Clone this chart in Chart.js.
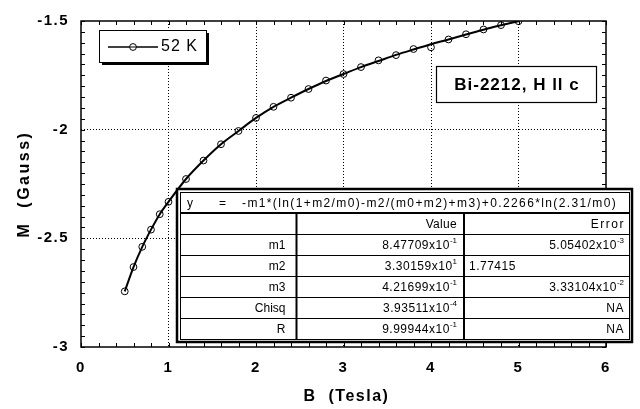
<!DOCTYPE html>
<html>
<head>
<meta charset="utf-8">
<script src="https://cdn.jsdelivr.net/npm/chart.js@4.4.1/dist/chart.umd.min.js"></script>
<style>
  html, body { margin: 0; padding: 0; background: #fff; }
</style>
</head>
<body>
<canvas id="chart" width="640" height="409"></canvas>
<script>
// Data
const fieldB = [0.5, 0.6, 0.7, 0.8, 0.9, 1.0, 1.2, 1.4, 1.6, 1.8, 2.0, 2.2, 2.4, 2.6, 2.8, 3.0, 3.2, 3.4, 3.6, 3.8, 4.0, 4.2, 4.4, 4.6, 4.8, 5.0];
const magM = [-2.744, -2.632, -2.539, -2.460, -2.389, -2.332, -2.227, -2.142, -2.067, -2.006, -1.946, -1.895, -1.853, -1.813, -1.774, -1.744, -1.712, -1.681, -1.657, -1.629, -1.621, -1.585, -1.561, -1.539, -1.519, -1.501];
const fitM = [-2.744, -2.632, -2.539, -2.460, -2.389, -2.332, -2.227, -2.142, -2.067, -2.006, -1.946, -1.895, -1.853, -1.813, -1.776, -1.744, -1.712, -1.684, -1.656, -1.631, -1.607, -1.585, -1.562, -1.540, -1.520, -1.501];
const seriesLabel = '52 K';
const noteText = 'Bi-2212, H ll c';
const xTitle = 'B  (Tesla)';
const yTitle = 'M  (Gauss)';

// fit table
const fitFormula = '-m1*(ln(1+m2/m0)-m2/(m0+m2)+m3)+0.2266*ln(2.31/m0)';
const paramNames = ['m1', 'm2', 'm3', 'Chisq', 'R'];
const paramValues = [['8.47709', '-1'], ['3.30159', '1'], ['4.21699', '-1'], ['3.93511', '-4'], ['9.99944', '-1']];
const paramErrors = [['5.05402', '-3'], ['1.77415', null], ['3.33104', '-2'], ['NA', null], ['NA', null]];

const FAM = "'Liberation Sans', Arial, Helvetica, sans-serif";

const isStep = (v, step) => Math.abs(v / step - Math.round(v / step)) < 1e-6;

// draws "mant x10^exp" aligned right (or left) at x
function drawSci(ctx, mant, exp, x, y, align) {
  ctx.font = '12px ' + FAM;
  ctx.letterSpacing = '0.5px';
  const base = exp === null ? mant : mant + 'x10';
  const wb = ctx.measureText(base).width;
  ctx.font = '8px ' + FAM;
  ctx.letterSpacing = '0px';
  const we = exp === null ? 0 : ctx.measureText(exp).width;
  const x0 = align === 'right' ? x - wb - we : x;
  ctx.textAlign = 'left';
  ctx.textBaseline = 'middle';
  ctx.font = '12px ' + FAM;
  ctx.letterSpacing = '0.5px';
  ctx.fillText(base, x0, y);
  if (exp !== null) {
    ctx.font = '8px ' + FAM;
    ctx.letterSpacing = '0px';
    ctx.fillText(exp, x0 + wb, y - 5);
  }
}

const decor = {
  id: 'decor',
  beforeDraw(chart) {
    chart.ctx.letterSpacing = '1.5px'; // looser tick labels like the original
  },
  afterDraw(chart) {
    const { ctx, chartArea: a, scales: { x, y } } = chart;
    ctx.save();
    ctx.letterSpacing = '0px';
    ctx.strokeStyle = '#000';
    ctx.fillStyle = '#000';

    const line = (x1, y1, x2, y2) => { ctx.beginPath(); ctx.moveTo(x1, y1); ctx.lineTo(x2, y2); ctx.stroke(); };

    // inward ticks on all four sides
    ctx.lineWidth = 1;
    x.ticks.forEach(t => {
      const px = Math.round(x.getPixelForValue(t.value)) + 0.5;
      line(px, a.top, px, a.top + 4);
      line(px, a.bottom, px, a.bottom - 4);
    });
    y.ticks.forEach(t => {
      const py = Math.round(y.getPixelForValue(t.value)) + 0.5;
      line(a.left, py, a.left + 4, py);
      line(a.right, py, a.right - 4, py);
    });

    // frame
    ctx.lineWidth = 1.5;
    ctx.strokeRect(a.left, a.top, a.right - a.left, a.bottom - a.top);

    // axis titles
    ctx.font = 'bold 16px ' + FAM;
    ctx.letterSpacing = '1.5px';
    ctx.textAlign = 'center';
    ctx.textBaseline = 'middle';
    ctx.fillText(xTitle, (a.left + a.right) / 2 + 3, 397);
    ctx.save();
    ctx.translate(25, (a.top + a.bottom) / 2);
    ctx.rotate(-Math.PI / 2);
    ctx.letterSpacing = '2.5px';
    ctx.fillText(yTitle, 0, 0);
    ctx.restore();

    // legend box with shadow
    const lx = 99, ly = 30, lw = 107, lh = 32;
    ctx.fillRect(lx + 3, ly + 3, lw, lh);
    ctx.fillStyle = '#fff';
    ctx.fillRect(lx, ly, lw, lh);
    ctx.fillStyle = '#000';
    ctx.lineWidth = 1;
    ctx.strokeRect(lx + 0.5, ly + 0.5, lw, lh);
    ctx.lineWidth = 1.5;
    line(108, 47, 158, 47);
    ctx.lineWidth = 1;
    ctx.fillStyle = '#fff';
    ctx.beginPath(); ctx.arc(133, 47, 3.4, 0, Math.PI * 2); ctx.fill(); ctx.stroke();
    ctx.fillStyle = '#000';
    line(129.6, 47, 136.4, 47);
    ctx.font = '16px ' + FAM;
    ctx.letterSpacing = '1px';
    ctx.textAlign = 'left';
    ctx.fillText(chart.data.datasets[0].label, 161, 47);

    // sample annotation
    ctx.fillStyle = '#fff';
    ctx.fillRect(436, 66, 160, 36);
    ctx.fillStyle = '#000';
    ctx.lineWidth = 1.2;
    ctx.strokeRect(436.5, 66.5, 160, 36);
    ctx.font = 'bold 17px ' + FAM;
    ctx.letterSpacing = '1px';
    ctx.textAlign = 'center';
    ctx.fillText(noteText, 517, 85);

    // fit results table
    const tx0 = 177, ty0 = 189, tx1 = 632, ty1 = 342;
    const cols = [180, 296.5, 464, 629];
    const rows = [192, 213, 234, 255, 276, 297, 318, 339];
    ctx.fillStyle = '#fff';
    ctx.fillRect(tx0, ty0, tx1 - tx0, ty1 - ty0);
    ctx.fillStyle = '#000';
    ctx.lineWidth = 2.5;
    ctx.strokeRect(tx0, ty0, tx1 - tx0, ty1 - ty0);
    ctx.lineWidth = 1;
    ctx.strokeRect(cols[0] + 0.5, rows[0] + 0.5, cols[3] - cols[0], rows[7] - rows[0]);
    ctx.lineWidth = 2;
    line(cols[0], rows[1], cols[3], rows[1]);
    line(cols[1], rows[1], cols[1], rows[7]);
    line(cols[2], rows[1], cols[2], rows[7]);
    ctx.lineWidth = 1;
    for (let r = 2; r < 7; r++) line(cols[0], rows[r] + 0.5, cols[3], rows[r] + 0.5);

    // formula row
    const fy = (rows[0] + rows[1]) / 2 + 1;
    ctx.font = '12px ' + FAM;
    ctx.textAlign = 'left';
    ctx.textBaseline = 'middle';
    ctx.letterSpacing = '0px';
    ctx.fillText('y', 187, fy);
    ctx.fillText('=', 219, fy);
    const fw = ctx.measureText(fitFormula).width;
    ctx.letterSpacing = ((375 - fw) / fitFormula.length).toFixed(2) + 'px';
    ctx.fillText(fitFormula, 242, fy);

    // header row
    const hy = (rows[1] + rows[2]) / 2 + 1;
    ctx.textAlign = 'right';
    ctx.letterSpacing = '0.3px';
    ctx.fillText('Value', cols[2] - 7, hy);
    ctx.letterSpacing = '1.5px';
    ctx.fillText('Error', cols[3] - 4, hy);

    paramNames.forEach((name, i) => {
      const ry = (rows[i + 2] + rows[i + 3]) / 2 + 1;
      ctx.font = '12px ' + FAM;
      ctx.letterSpacing = '0px';
      ctx.textAlign = 'right';
      ctx.fillText(name, cols[1] - 11, ry);
      drawSci(ctx, paramValues[i][0], paramValues[i][1], cols[2] - 7, ry, 'right');
      const err = paramErrors[i];
      if (err[0] !== 'NA' && err[1] === null) {
        drawSci(ctx, err[0], err[1], cols[2] + 5, ry, 'left');
      } else {
        drawSci(ctx, err[0], err[1], cols[3] - 5, ry, 'right');
      }
    });

    ctx.restore();
  }
};

new Chart(document.getElementById('chart'), {
  type: 'scatter',
  data: {
    datasets: [
      {
        label: seriesLabel,
        data: fieldB.map((b, i) => ({ x: b, y: magM[i] })),
        showLine: false,
        pointRadius: 3.4,
        pointHoverRadius: 3.4,
        pointBorderWidth: 1,
        pointBorderColor: '#000',
        pointBackgroundColor: 'rgba(0,0,0,0)',
      },
      {
        label: 'fit',
        data: fieldB.map((b, i) => ({ x: b, y: fitM[i] })),
        showLine: true,
        borderColor: '#000',
        borderWidth: 2,
        pointRadius: 0,
        cubicInterpolationMode: 'monotone',
        fill: false,
      },
    ],
  },
  options: {
    responsive: false,
    animation: false,
    events: [],
    layout: { padding: { top: 13, right: 34, left: 0, bottom: 0 } },
    plugins: { legend: { display: false }, tooltip: { enabled: false } },
    scales: {
      x: {
        type: 'linear',
        min: 0,
        max: 6,
        afterFit: s => { s.height = 62; },
        ticks: {
          stepSize: 0.2,
          maxTicksLimit: 100,
          autoSkip: false,
          maxRotation: 0,
          padding: 12,
          color: '#000',
          font: { family: FAM, size: 15, weight: 'bold' },
          callback: v => isStep(v, 1) ? String(Math.round(v)) : '',
        },
        grid: {
          drawTicks: false,
          lineWidth: 1,
          color: c => (c.tick && isStep(c.tick.value, 1) && c.tick.value > 0 && c.tick.value < 6) ? '#000' : 'rgba(0,0,0,0)',
        },
        border: { display: false, dash: [1, 2] },
      },
      y: {
        type: 'linear',
        min: -3,
        max: -1.5,
        afterFit: s => { s.width = 81; },
        ticks: {
          stepSize: 0.05,
          maxTicksLimit: 100,
          autoSkip: false,
          padding: 12,
          color: '#000',
          font: { family: FAM, size: 15, weight: 'bold' },
          callback: v => isStep(v, 0.5) ? String(Math.round(v * 10) / 10) : '',
        },
        grid: {
          drawTicks: false,
          lineWidth: 1,
          color: c => (c.tick && isStep(c.tick.value, 0.5) && c.tick.value > -3 && c.tick.value < -1.5) ? '#000' : 'rgba(0,0,0,0)',
        },
        border: { display: false, dash: [1, 2] },
      },
    },
  },
  plugins: [decor],
});
</script>
</body>
</html>
